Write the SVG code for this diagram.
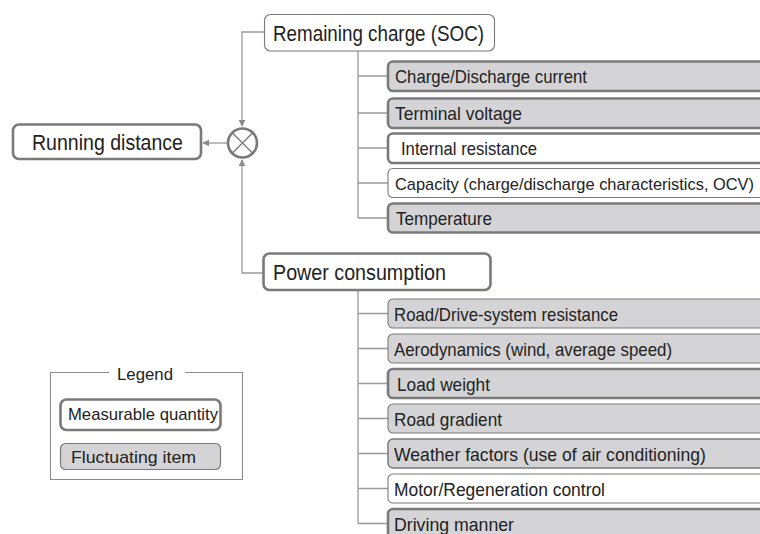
<svg xmlns="http://www.w3.org/2000/svg" width="760" height="534" viewBox="0 0 760 534">
<style>
text{font-family:"Liberation Sans",Arial,sans-serif;fill:#222;}
.h{font-size:22px;}
.i{font-size:19px;}
.l{font-size:17px;}
.hdr{fill:#fff;stroke:#7a7a7a;}
.meas{fill:#fff;stroke:#7a7a7a;stroke-width:2.6;}
.fluc{fill:#d4d4d6;stroke:#7a7a7a;}
.thick{stroke-width:2.6;}
.thin{stroke-width:1.1;}
.plain{fill:#fff;stroke:#7a7a7a;}
.con{fill:none;stroke:#9a9a9a;stroke-width:1.3;}
</style>
<defs>
<marker id="ah" viewBox="0 0 10 10" refX="9" refY="5" markerWidth="7" markerHeight="7" markerUnits="userSpaceOnUse" orient="auto">
<path d="M0,0 L10,5 L0,10 z" fill="#8a8a8a"/>
</marker>
</defs>
<g id="connectors">
<path class="con" d="M264,32 H242 V126" marker-end="url(#ah)"/>
<path class="con" d="M263,273 H242 V160" marker-end="url(#ah)"/>
<path class="con" d="M227,143 H203" marker-end="url(#ah)"/>
<path class="con" d="M358,51 V218 M358,76 H388 M358,113 H388 M358,148 H388 M358,183 H388 M358,218 H388"/>
<path class="con" d="M358,290 V523.5 M358,313.5 H388 M358,348.5 H388 M358,383.5 H388 M358,418.5 H388 M358,453.5 H388 M358,488.5 H388 M358,523.5 H388"/>
</g>
<g id="running-distance">
<rect class="meas" x="13" y="124.5" width="188" height="34.5" rx="6"/>
<text class="h" x="32" y="150" textLength="151" lengthAdjust="spacingAndGlyphs">Running distance</text>
</g>
<g id="multiply">
<circle cx="242.5" cy="143" r="14.5" fill="#fff" stroke="#7a7a7a" stroke-width="2.6"/>
<path d="M232.3,132.8 L252.7,153.2 M252.7,132.8 L232.3,153.2" stroke="#7a7a7a" stroke-width="1.3"/>
</g>
<g id="remaining-charge">
<rect class="hdr" x="264.5" y="14.5" width="230" height="36.5" rx="6" stroke-width="1.1"/>
<text class="h" x="273" y="40.5" textLength="211" lengthAdjust="spacingAndGlyphs">Remaining charge (SOC)</text>
</g>
<g id="charge-current">
<rect class="fluc thick" x="388" y="61.5" width="390" height="29.5" rx="5"/>
<text class="i" x="395" y="83" textLength="192" lengthAdjust="spacingAndGlyphs">Charge/Discharge current</text>
</g>
<g id="terminal-voltage">
<rect class="fluc thick" x="388" y="98.5" width="390" height="29.5" rx="5"/>
<text class="i" x="395" y="120" textLength="127" lengthAdjust="spacingAndGlyphs">Terminal voltage</text>
</g>
<g id="internal-resistance">
<rect class="plain thick" x="388" y="133.5" width="390" height="29.5" rx="5"/>
<text class="i" x="401" y="155" textLength="136" lengthAdjust="spacingAndGlyphs">Internal resistance</text>
</g>
<g id="capacity">
<rect class="plain thin" x="388" y="168.5" width="390" height="29" rx="5"/>
<text x="395" y="189.5" font-size="16.4" textLength="359" lengthAdjust="spacingAndGlyphs">Capacity (charge/discharge characteristics, OCV)</text>
</g>
<g id="temperature">
<rect class="fluc thick" x="388" y="203.5" width="390" height="29" rx="5"/>
<text class="i" x="396" y="225" textLength="96" lengthAdjust="spacingAndGlyphs">Temperature</text>
</g>
<g id="power-consumption">
<rect class="meas" x="263.5" y="253.5" width="227" height="36.5" rx="6"/>
<text class="h" x="273" y="279.5" textLength="173" lengthAdjust="spacingAndGlyphs">Power consumption</text>
</g>
<g id="road-drive">
<rect class="fluc thin" x="388" y="299" width="390" height="29" rx="5"/>
<text class="i" x="394" y="320.5" textLength="224" lengthAdjust="spacingAndGlyphs">Road/Drive-system resistance</text>
</g>
<g id="aerodynamics">
<rect class="fluc thin" x="388" y="334" width="390" height="29" rx="5"/>
<text class="i" x="394" y="355.5" textLength="278" lengthAdjust="spacingAndGlyphs">Aerodynamics (wind, average speed)</text>
</g>
<g id="load-weight">
<rect class="fluc thick" x="388" y="369" width="390" height="29" rx="5"/>
<text class="i" x="397" y="390.5" textLength="93" lengthAdjust="spacingAndGlyphs">Load weight</text>
</g>
<g id="road-gradient">
<rect class="fluc thin" x="388" y="404" width="390" height="29" rx="5"/>
<text class="i" x="394" y="425.5" textLength="108" lengthAdjust="spacingAndGlyphs">Road gradient</text>
</g>
<g id="weather">
<rect class="fluc" x="388" y="439" width="390" height="29" rx="5" stroke-width="1.5"/>
<text class="i" x="394" y="460.5" textLength="312" lengthAdjust="spacingAndGlyphs">Weather factors (use of air conditioning)</text>
</g>
<g id="motor-control">
<rect class="plain thin" x="388" y="474" width="390" height="29" rx="5"/>
<text class="i" x="394" y="495.5" textLength="211" lengthAdjust="spacingAndGlyphs">Motor/Regeneration control</text>
</g>
<g id="driving-manner">
<rect class="fluc thick" x="388" y="509" width="390" height="29" rx="5"/>
<text class="i" x="394" y="530.5" textLength="120" lengthAdjust="spacingAndGlyphs">Driving manner</text>
</g>
<g id="legend">
<path d="M109,372.5 H50.5 V479.5 H242.5 V372.5 H185" fill="none" stroke="#8a8a8a" stroke-width="1.1"/>
<text class="l" x="117" y="380" textLength="56" lengthAdjust="spacingAndGlyphs">Legend</text>
<rect class="meas" x="60.5" y="399.5" width="160" height="30.5" rx="6"/>
<text class="l" x="68" y="420" textLength="150" lengthAdjust="spacingAndGlyphs">Measurable quantity</text>
<rect class="fluc" x="60.5" y="443.5" width="160" height="26" rx="5" stroke-width="1.2"/>
<text class="l" x="71" y="462.5" textLength="125" lengthAdjust="spacingAndGlyphs">Fluctuating item</text>
</g>
</svg>
